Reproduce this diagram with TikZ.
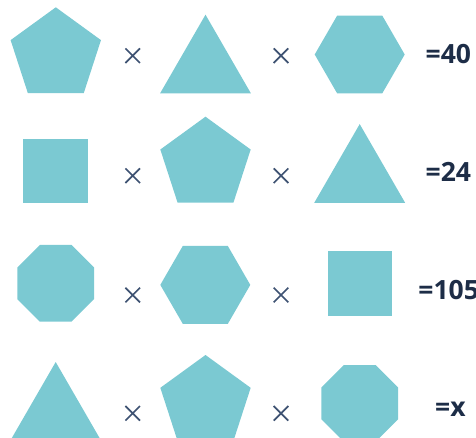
\documentclass[tikz,border=0pt]{standalone}
\usepackage{fontspec}
\setmainfont{Open Sans}
\usetikzlibrary{shapes.geometric}
\definecolor{shapefill}{HTML}{7BC9D2}
\definecolor{numtext}{HTML}{1D2D47}
\definecolor{timescol}{HTML}{3E5272}
\tikzset{
  shp/.style={fill=shapefill, draw=none, inner sep=0pt, outer sep=0pt},
  penta/.style={shp, regular polygon, regular polygon sides=5, minimum size=95pt},
  tri/.style={shp, regular polygon, regular polygon sides=3, minimum size=105pt},
  hexa/.style={shp, regular polygon, regular polygon sides=6, minimum size=90pt},
  octa/.style={shp, regular polygon, regular polygon sides=8, minimum size=83pt},
  sq/.style={shp, rectangle, minimum size=64.3pt},
  res/.style={anchor=base west, inner sep=0pt, text=numtext, font=\fontsize{26.5}{30}\selectfont\bfseries},
  timesmark/.style={draw=timescol, line width=1.7pt}
}
\newcommand\mytimes[2]{%
  \draw[timesmark] ([shift={(-7.3,-7.3)}]#1,#2) -- ([shift={(7.3,7.3)}]#1,#2)
                   ([shift={(-7.3,7.3)}]#1,#2) -- ([shift={(7.3,-7.3)}]#1,#2);}
\begin{document}
\begin{tikzpicture}[x=1pt,y=-1pt]
\useasboundingbox (0,0) rectangle (476,438);
\begin{scope}
\clip (0,0) rectangle (476,438);
% row 1
\node[penta] (r1a) at (55.8,54.8) {};
\node[tri]   (r1b) at (205.5,67.2) {};
\node[hexa]  (r1c) at (359.7,54.5) {};
% row 2
\node[sq]    (r2a) at (55.5,171.3) {};
\node[penta] (r2b) at (205.5,164.2) {};
\node[tri]   (r2c) at (359.7,176.6) {};
% row 3
\node[octa]  (r3a) at (55.7,283.3) {};
\node[hexa]  (r3b) at (205.3,284.9) {};
\node[sq]    (r3c) at (359.8,283.5) {};
% row 4
\node[tri]   (r4a) at (55.7,414.5) {};
\node[penta] (r4b) at (205.5,402.5) {};
\node[octa]  (r4c) at (359.8,403.4) {};
% times signs
\mytimes{132.7}{55.7}\mytimes{281}{55.7}
\mytimes{132.7}{175.7}\mytimes{281}{175.7}
\mytimes{132.7}{295}\mytimes{281}{295}
\mytimes{132.7}{413.3}\mytimes{281}{413.3}
% results
\node[res] (t1) at (425.5,63.3) {=40};
\node[res] (t2) at (425.5,181.7) {=24};
\node[res] (t3) at (418.2,299.3) {=105};
\node[res] (t4) at (435,416.7) {=x};
\end{scope}
\end{tikzpicture}
\end{document}
